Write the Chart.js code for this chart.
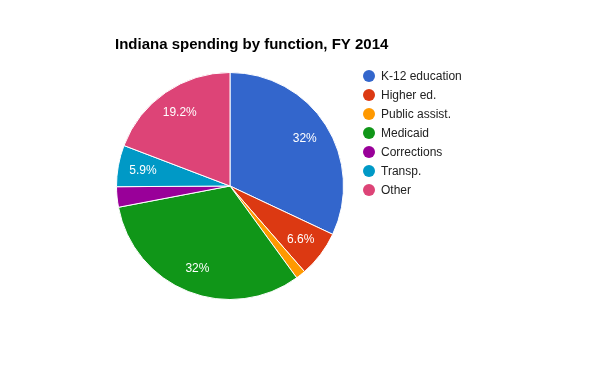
<!DOCTYPE html>
<html>
<head>
<meta charset="utf-8">
<script src="https://cdn.jsdelivr.net/npm/chart.js@4"></script>
<style>
  html, body { margin: 0; padding: 0; background: #fff; }
  #wrap { width: 600px; height: 371px; }
</style>
</head>
<body>
<div id="wrap"><canvas id="pie" width="600" height="371"></canvas></div>
<script>
const title = "Indiana spending by function, FY 2014";
const categories = ["K-12 education", "Higher ed.", "Public assist.", "Medicaid", "Corrections", "Transp.", "Other"];
const shares = [32, 6.6, 1.4, 32, 2.9, 5.9, 19.2];
const colors = ["#3366cc", "#dc3912", "#ff9900", "#109618", "#990099", "#0099c6", "#dd4477"];

// タイトル・凡例・ラベルを描く
const decorations = {
  id: "decorations",
  afterDraw(chart) {
    const ctx = chart.ctx;
    ctx.save();
    ctx.fillStyle = "#000";
    ctx.font = "bold 15px Arial, 'Liberation Sans', sans-serif";
    ctx.textBaseline = "middle";
    ctx.textAlign = "left";
    ctx.fillText(title, 115, 45);

    // legend
    ctx.font = "12px Arial, 'Liberation Sans', sans-serif";
    chart.data.labels.forEach((lab, i) => {
      const y = 76 + i * 19;
      ctx.fillStyle = chart.data.datasets[0].backgroundColor[i];
      ctx.beginPath();
      ctx.arc(369, y, 6, 0, Math.PI * 2);
      ctx.fill();
      ctx.fillStyle = "#222";
      ctx.fillText(lab, 381, y + 1);
    });

    // slice labels
    const meta = chart.getDatasetMeta(0);
    ctx.fillStyle = "#fff";
    ctx.textAlign = "center";
    meta.data.forEach((arc, i) => {
      const v = chart.data.datasets[0].data[i];
      if (v < 5) return;
      const mid = (arc.startAngle + arc.endAngle) / 2;
      const r = arc.outerRadius * 0.78;
      ctx.fillText(v + "%", arc.x + Math.cos(mid) * r, arc.y + Math.sin(mid) * r);
    });
    ctx.restore();
  }
};

new Chart(document.getElementById("pie"), {
  type: "pie",
  data: {
    labels: categories,
    datasets: [{
      data: shares,
      backgroundColor: colors,
      borderColor: "#fff",
      borderWidth: 1
    }]
  },
  options: {
    responsive: false,
    animation: false,
    layout: { padding: { left: 116, right: 256, top: 72, bottom: 71 } },
    plugins: {
      legend: { display: false },
      title: { display: false },
      tooltip: { enabled: false }
    }
  },
  plugins: [decorations]
});
</script>
</body>
</html>
